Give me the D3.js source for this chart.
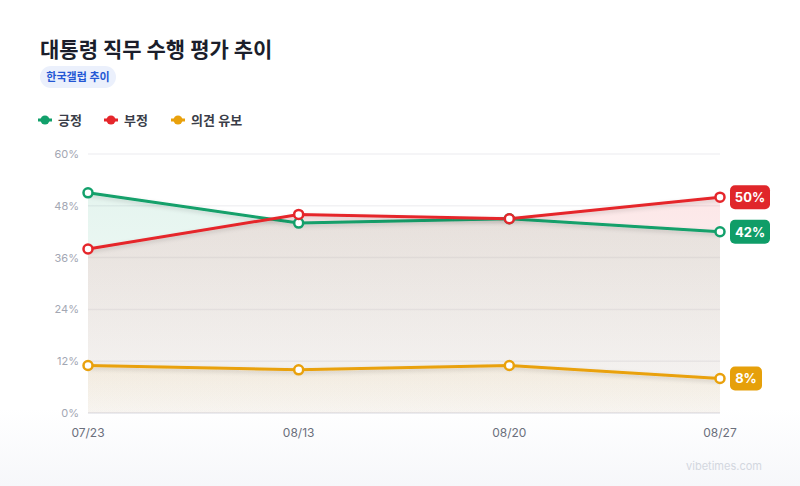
<!DOCTYPE html>
<html><head><meta charset="utf-8">
<script src="https://cdn.jsdelivr.net/npm/d3@7"></script>
<style>
html,body{margin:0;padding:0;}
body{width:800px;height:486px;overflow:hidden;font-family:Inter,"Noto Sans CJK KR","Noto Sans",sans-serif;}
</style></head>
<body><svg id="c" width="800" height="486"></svg>
<script>
const dates = ["07/23","08/13","08/20","08/27"];
const positive = [51,44,45,42];
const negative = [38,46,45,50];
const reserved = [11,10,11,8];
const seriesNames = ["긍정","부정","의견 유보"];
const seriesColors = ["#12a06b","#e5262b","#e9a10c"];
const badgeColors = ["#0f9d68","#e0262a","#e6a00a"];
const yTicks = [0,12,24,36,48,60];

const svg = d3.select("#c");
const defs = svg.append("defs");
const bg = defs.append("linearGradient").attr("id","bg").attr("x1",0).attr("x2",0).attr("y1",0).attr("y2",1);
bg.append("stop").attr("offset","0.84").attr("stop-color","#ffffff");
bg.append("stop").attr("offset","1").attr("stop-color","#f6f7fa");
svg.append("rect").attr("width",800).attr("height",486).attr("fill","url(#bg)");

const f = defs.append("filter").attr("id","glow").attr("x","-10%").attr("y","-50%").attr("width","120%").attr("height","200%");
f.append("feDropShadow").attr("dx",0).attr("dy",2).attr("stdDeviation",2).attr("flood-opacity",0.15);

// title
svg.append("text").attr("x",40).attr("y",57).text("대통령 직무 수행 평가 추이")
  .attr("font-size",21).attr("font-weight",700).attr("fill","#1b1e2b");
svg.append("rect").attr("x",40).attr("y",66).attr("width",76).attr("height",22).attr("rx",11).attr("fill","#ebf0fc");
svg.append("text").attr("x",78).attr("y",81).attr("text-anchor","middle").text("한국갤럽 추이")
  .attr("font-size",11).attr("font-weight",700).attr("fill","#2357d4");

// legend
const legX = [38,104,171];
seriesNames.forEach((n,i)=>{
  const g = svg.append("g").attr("transform",`translate(${legX[i]},120)`);
  g.append("line").attr("x1",0).attr("x2",14).attr("stroke",seriesColors[i]).attr("stroke-width",3);
  g.append("circle").attr("cx",7).attr("r",4.5).attr("fill",seriesColors[i]);
  g.append("text").attr("x",20).attr("y",4.5).text(n).attr("font-size",13).attr("font-weight",600).attr("fill","#3a3d48");
});

const x = d3.scalePoint().domain(dates).range([88,720]);
const y = d3.scaleLinear().domain([0,60]).range([413,154]);

// grid
svg.append("g").selectAll("line").data(yTicks).join("line")
  .attr("x1",88).attr("x2",720).attr("y1",d=>y(d)).attr("y2",d=>y(d))
  .attr("stroke",d=>d===0?"#ebebef":"#f2f2f4").attr("stroke-width",d=>d===0?2:1.5);
svg.append("g").selectAll("text").data(yTicks).join("text")
  .attr("x",79).attr("y",d=>y(d)+4).attr("text-anchor","end").text(d=>d+"%")
  .attr("font-size",11).attr("fill","#a3a7b3");

// x labels
svg.append("g").selectAll("text").data(dates).join("text")
  .attr("x",d=>x(d)).attr("y",437).attr("text-anchor","middle").text(d=>d)
  .attr("font-size",12).attr("fill","#6b6f7c");

const data = [positive,negative,reserved];
const topOp = [0.11,0.11,0.07], botOp = [0.03,0.03,0.02];
data.forEach((vals,i)=>{
  const gr = defs.append("linearGradient").attr("id","ag"+i).attr("x1",0).attr("x2",0).attr("y1",0).attr("y2",1);
  gr.append("stop").attr("offset","0").attr("stop-color",seriesColors[i]).attr("stop-opacity",topOp[i]);
  gr.append("stop").attr("offset","1").attr("stop-color",seriesColors[i]).attr("stop-opacity",botOp[i]);
});
const pts = vals => vals.map((v,j)=>({d:dates[j],v}));
const area = d3.area().x(p=>x(p.d)).y0(y(0)).y1(p=>y(p.v));
const line = d3.line().x(p=>x(p.d)).y(p=>y(p.v));
data.forEach((vals,i)=>{
  svg.append("path").datum(pts(vals)).attr("d",area).attr("fill",`url(#ag${i})`);
});
data.forEach((vals,i)=>{
  svg.append("path").datum(pts(vals)).attr("d",line).attr("fill","none")
    .attr("stroke",seriesColors[i]).attr("stroke-width",3).attr("filter","url(#glow)");
});
data.forEach((vals,i)=>{
  svg.append("g").selectAll("circle").data(pts(vals)).join("circle")
    .attr("cx",p=>x(p.d)).attr("cy",p=>y(p.v)).attr("r",4.5)
    .attr("fill","#fff").attr("stroke",seriesColors[i]).attr("stroke-width",2.5);
});
// end badges
data.forEach((vals,i)=>{
  const v = vals[vals.length-1];
  const t = v+"%";
  const w = t.length===3?40:32;
  const cy = y(v);
  svg.append("rect").attr("x",730).attr("y",cy-12).attr("width",w).attr("height",24).attr("rx",5).attr("fill",badgeColors[i]);
  svg.append("text").attr("x",730+w/2).attr("y",cy+5).attr("text-anchor","middle").text(t)
    .attr("font-size",13).attr("font-weight",700).attr("fill","#fff");
});

svg.append("text").attr("x",724).attr("y",470).attr("text-anchor","middle").text("vibetimes.com")
  .attr("font-size",11).attr("fill","#d3d7df");
</script></body></html>
